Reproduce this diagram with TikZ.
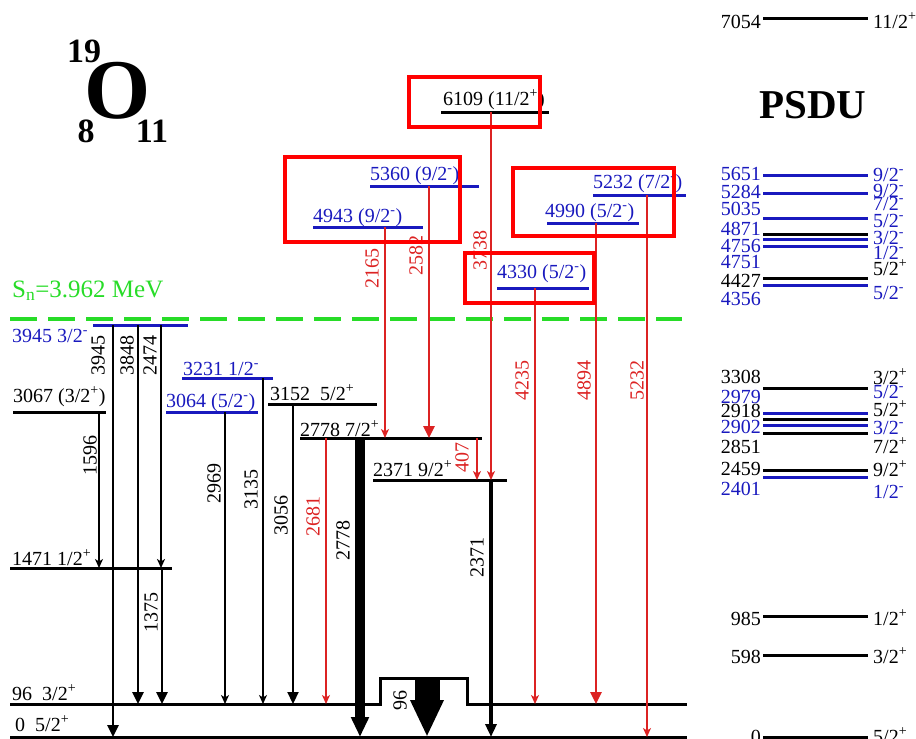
\documentclass[tikz,border=0pt]{standalone}
\usepackage{fontspec}
\setmainfont{Liberation Serif}
\usepackage{tikz}
\usetikzlibrary{arrows.meta}
\definecolor{lvblue}{RGB}{25,25,190}
\definecolor{trred}{RGB}{220,35,35}
\definecolor{sngreen}{RGB}{40,220,40}

\begin{document}
\begin{tikzpicture}[x=1pt,y=-1pt,font=\fontsize{20}{22}\selectfont,
		lvl/.style={line width=3pt},
		blvl/.style={lvl,draw=lvblue},
		lab/.style={anchor=base west,inner sep=0pt},
		glab/.style={rotate=90,inner sep=0pt},
		gam/.style={line width=1.3pt,-{Stealth[length=9pt,width=8pt,inset=2.5pt]}},
		gamb/.style={line width=2.6pt,-{Triangle[length=12pt,width=11pt]}},
		rgam/.style={gam,draw=trred},
		rgamb/.style={gamb,draw=trred},
		box/.style={draw=red,line width=4pt}]
			\useasboundingbox (0,0) rectangle (916,739);
			\foreach \n/\y in {0/737,96/704,1471/568,3067/412,3945/325,3231/378,3064/412,3152/404,2778/438,2371/480,4943/227,5360/186,6109/112,4330/288,4990/223,5232/195}
			\coordinate (L\n) at (0,\y);
			\coordinate (B96) at (0,678);

			\node[anchor=base,font=\bfseries\fontsize{85}{85}\selectfont] (elem) at (118,118) {O};
			\node[anchor=base,font=\bfseries\fontsize{34}{34}\selectfont] (mass) at (84,62) {19};
			\node[anchor=base,font=\bfseries\fontsize{34}{34}\selectfont] (prot) at (86,142) {8};
			\node[anchor=base,font=\bfseries\fontsize{34}{34}\selectfont] (neut) at (152,142) {11};

			\draw[sngreen,line width=4pt,dash pattern=on 27pt off 11pt] (10,319) -- (682,319);
			\node[lab,text=sngreen,font=\fontsize{25}{25}\selectfont] (sn) at (12,297) {S\textsubscript{n}=3.962 MeV};

			\draw[lvl] (10,0 |- L0) -- (687,0 |- L0);
			\draw[lvl] (10,0 |- L96) -- (380,0 |- L96) -- (380,0 |- B96) -- (467,0 |- B96) -- (467,0 |- L96) -- (687,0 |- L96);
			\draw[lvl] (10,0 |- L1471) -- (172,0 |- L1471);
			\draw[lvl] (13,0 |- L3067) -- (106,0 |- L3067);
			\draw[blvl] (93,0 |- L3945) -- (188,0 |- L3945);
			\draw[blvl] (182,0 |- L3231) -- (273,0 |- L3231);
			\draw[blvl] (166,0 |- L3064) -- (258,0 |- L3064);
			\draw[lvl] (268,0 |- L3152) -- (377,0 |- L3152);
			\draw[lvl] (300,0 |- L2778) -- (482,0 |- L2778);
			\draw[lvl] (373,0 |- L2371) -- (507,0 |- L2371);
			\draw[blvl] (313,0 |- L4943) -- (423,0 |- L4943);
			\draw[blvl] (370,0 |- L5360) -- (479,0 |- L5360);
			\draw[lvl] (441,0 |- L6109) -- (549,0 |- L6109);
			\draw[blvl] (497,0 |- L4330) -- (589,0 |- L4330);
			\draw[blvl] (547,0 |- L4990) -- (639,0 |- L4990);
			\draw[blvl] (593,0 |- L5232) -- (686,0 |- L5232);

			\node[lab] (n0) at (15,731) {0\ \ 5/2\textsuperscript{+}};
			\node[lab] (n96) at (12,700) {96\ \ 3/2\textsuperscript{+}};
			\node[lab] (n1471) at (12,565) {1471 1/2\textsuperscript{+}};
			\node[lab] (n3067) at (13,402) {3067 (3/2\textsuperscript{+})};
			\node[lab,text=lvblue] (n3945) at (12,342) {3945 3/2\textsuperscript{-}};
			\node[lab,text=lvblue] (n3231) at (183,375) {3231 1/2\textsuperscript{-}};
			\node[lab,text=lvblue] (n3064) at (166,407) {3064 (5/2\textsuperscript{-})};
			\node[lab] (n3152) at (270,400) {3152\ \ 5/2\textsuperscript{+}};
			\node[lab] (n2778) at (300,436) {2778 7/2\textsuperscript{+}};
			\node[lab] (n2371) at (373,476) {2371 9/2\textsuperscript{+}};
			\node[lab,text=lvblue] (n4943) at (313,222) {4943 (9/2\textsuperscript{-})};
			\node[lab,text=lvblue] (n5360) at (370,180) {5360 (9/2\textsuperscript{-})};
			\node[lab] (n6109) at (443,105) {6109 (11/2\textsuperscript{+})};
			\node[lab,text=lvblue] (n4330) at (497,278) {4330 (5/2\textsuperscript{-})};
			\node[lab,text=lvblue] (n4990) at (545,217) {4990 (5/2\textsuperscript{-})};
			\node[lab,text=lvblue] (n5232) at (593,188) {5232 (7/2\textsuperscript{-})};

			\draw[gamb] (113,0 |- L3945) -- (113,0 |- L0);
			\node[glab] (t3945) at (98,355) {3945};
			\draw[gamb] (138,0 |- L3945) -- (138,0 |- L96);
			\node[glab] (t3848) at (127,355) {3848};
			\draw[gam,line width=2pt] (161,0 |- L3945) -- (161,0 |- L1471);
			\node[glab] (t2474) at (150,355) {2474};
			\draw[gam] (99,0 |- L3067) -- (99,0 |- L1471);
			\node[glab] (t1596) at (90,455) {1596};
			\draw[gamb] (162,0 |- L1471) -- (162,0 |- L96);
			\node[glab] (t1375) at (151,612) {1375};
			\draw[gam] (225,0 |- L3064) -- (225,0 |- L96);
			\node[glab] (t2969) at (214,483) {2969};
			\draw[gam] (263,0 |- L3231) -- (263,0 |- L96);
			\node[glab] (t3135) at (251,489) {3135};
			\draw[gamb,line width=2.2pt] (293,0 |- L3152) -- (293,0 |- L96);
			\node[glab] (t3056) at (281,515) {3056};
			\draw[rgam] (326,0 |- L2778) -- (326,0 |- L96);
			\node[glab,text=trred] (t2681) at (313,516) {2681};
			\draw[line width=10pt,-{Triangle[length=20pt,width=17pt]}] (360,0 |- L2778) -- (360,0 |- L0);
			\node[glab] (t2778) at (343,540) {2778};
			\draw[line width=4pt,-{Triangle[length=13pt,width=11pt]}] (491,0 |- L2371) -- (491,0 |- L0);
			\node[glab] (t2371) at (477,557) {2371};
			\draw[line width=25pt,-{Triangle[length=37pt,width=31pt]}] (427,0 |- B96) -- (427,0 |- L0);
			\node[glab] (t96) at (400,700) {96};

			\draw[rgam] (385,0 |- L4943) -- (385,0 |- L2778);
			\node[glab,text=trred] (t2165) at (372,268) {2165};
			\draw[rgamb] (429,0 |- L5360) -- (429,0 |- L2778);
			\node[glab,text=trred] (t2582) at (416,255) {2582};
			\draw[rgam] (491,0 |- L6109) -- (491,0 |- L2371);
			\node[glab,text=trred] (t3738) at (480,250) {3738};
			\draw[rgam] (477,0 |- L2778) -- (477,0 |- L2371);
			\node[glab,text=trred] (t407) at (462,457) {407};
			\draw[rgam] (535,0 |- L4330) -- (535,0 |- L96);
			\node[glab,text=trred] (t4235) at (522,380) {4235};
			\draw[rgamb] (596,0 |- L4990) -- (596,0 |- L96);
			\node[glab,text=trred] (t4894) at (584,380) {4894};
			\draw[rgam] (647,0 |- L5232) -- (647,0 |- L0);
			\node[glab,text=trred] (t5232) at (637,380) {5232};

			\draw[box] (409,77) rectangle (540,127);
			\draw[box] (285,157) rectangle (460,242);
			\draw[box] (513,168) rectangle (674,236);
			\draw[box] (465,253) rectangle (594,303);

			\node[anchor=base,font=\bfseries\fontsize{41}{41}\selectfont] (psdu) at (813,118) {PSDU};
			\foreach \y/\col in {18/black,175/lvblue,193/lvblue,218/lvblue,234/black,239/lvblue,246/lvblue,278/black,285/lvblue,388/black,413/lvblue,419/black,425/lvblue,433/black,470/black,477/lvblue,616/black,655/black,737/black}
			\draw[lvl,draw=\col] (763,\y) -- (868,\y);
			\foreach \y/\e/\col in {28/7054/black,180/5651/lvblue,198/5284/lvblue,215/5035/lvblue,235/4871/lvblue,252/4756/lvblue,268/4751/lvblue,287/4427/black,305/4356/lvblue,383/3308/black,403/2979/lvblue,417/2918/black,433/2902/lvblue,453/2851/black,475/2459/black,495/2401/lvblue,625/985/black,663/598/black,743/0/black}
			\node[anchor=base east,inner sep=0pt,text=\col] (p\e) at (761,\y) {\e};
			\foreach \y/\jj/\ps/\col [count=\i] in {28/11/+/black,181/9/-/lvblue,197/9/-/lvblue,210/7/-/lvblue,227/5/-/lvblue,244/3/-/lvblue,259/1/-/lvblue,275/5/+/black,299/5/-/lvblue,384/3/+/black,398/5/-/lvblue,416/5/+/black,434/3/-/lvblue,453/7/+/black,476/9/+/black,498/1/-/lvblue,625/1/+/black,663/3/+/black,743/5/+/black}
			\node[lab,text=\col] (q\i) at (873,\y) {\jj/2\textsuperscript{\ps}};
		\end{tikzpicture}
\end{document}
